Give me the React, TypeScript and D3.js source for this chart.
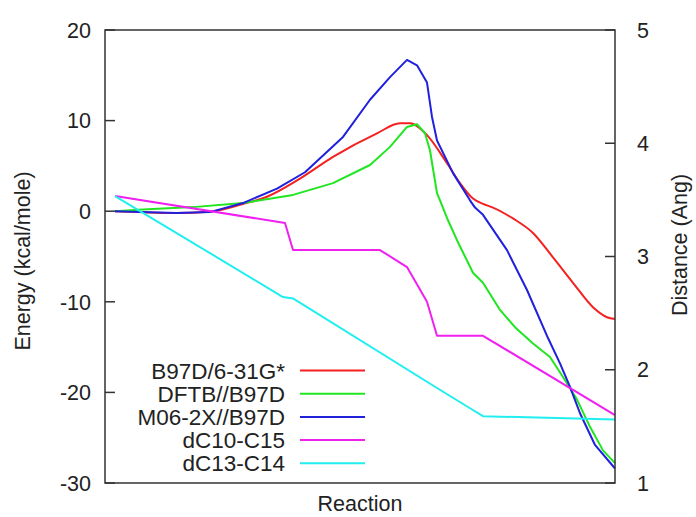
import React from "react";
import * as d3 from "d3";

// Energy curves (left axis, kcal/mole): [reaction coordinate, energy]
const b97dX = [0, 5, 12, 19, 25.6, 30.4, 37, 43.6, 52.4, 57, 59, 62.4, 66.4, 69, 71.6, 73.6, 75.6, 79.6, 83.6, 87.6, 91.6, 95.6, 98.4, 100];
const b97dY = [0, -0.1, -0.2, -0.05, 0.8, 1.6, 3.6, 6.0, 8.6, 9.7, 9.7, 8.4, 5.3, 3.1, 1.4, 0.8, 0.4, -0.8, -2.4, -5.1, -7.9, -10.6, -11.7, -11.9];

const dftbX = [0, 5.6, 15.6, 25.6, 35.6, 43.6, 51, 55, 58.4, 60.4, 62, 63, 64.4, 65, 66.6, 68.4, 71.6, 73.6, 77, 80, 83.6, 87, 89.6, 92.4, 95, 97.6, 100];
const dftbY = [0, 0.2, 0.45, 0.9, 1.8, 3.1, 5.1, 7.1, 9.3, 9.6, 8.6, 6.7, 2.0, 1.2, -1.0, -3.2, -6.8, -7.9, -10.9, -12.8, -14.6, -16.1, -18.3, -20.8, -23.8, -26.4, -27.8];

const m06X = [0, 5, 12.4, 19, 25.6, 32.4, 38, 45.6, 51, 55, 58.4, 60.4, 62.4, 63.4, 64.4, 67.6, 71, 72, 73.6, 78.4, 82.4, 86.6, 89, 91, 93, 96, 100];
const m06Y = [0, -0.1, -0.2, -0.1, 0.9, 2.5, 4.3, 8.2, 12.3, 14.8, 16.7, 16.1, 14.2, 10.4, 7.8, 4.2, 1.2, 0.4, -0.4, -4.3, -8.7, -14.0, -16.8, -19.4, -22.3, -25.8, -28.4];

// Distance curves (right axis, Angstrom)
const dC1015X = [0, 34, 35.6, 53, 58.4, 62.4, 64.4, 73.6, 100];
const dC1015Y = [3.534, 3.296, 3.057, 3.057, 2.907, 2.6, 2.3, 2.3, 1.6];

const dC1314X = [0, 33.6, 35.6, 64.4, 71, 73.6, 100];
const dC1314Y = [3.534, 2.642, 2.63, 1.839, 1.66, 1.59, 1.56];

const leftTicks = [20, 10, 0, -10, -20, -30];
const rightTicks = [5, 4, 3, 2, 1];

const seriesNames = ["B97D/6-31G*", "DFTB//B97D", "M06-2X//B97D", "dC10-C15", "dC13-C14"];
const seriesColors = ["#f52020", "#20e620", "#2020dd", "#f020f0", "#20eef0"];

export default function App() {
  const W = 696, H = 517;
  const L = 105, R = 615, T = 30, B = 483;
  const x = d3.scaleLinear().domain([-2, 100]).range([L, R]);
  const yL = d3.scaleLinear().domain([-30, 20]).range([B, T]);
  const yR = d3.scaleLinear().domain([1, 5]).range([B, T]);

  const mk = (xs: number[], ys: number[], ys2: d3.ScaleLinear<number, number>, smooth = false) => {
    const g = d3.line<number>().x((_, i) => x(xs[i])).y((v) => ys2(v));
    if (smooth) g.curve(d3.curveMonotoneX);
    return g(ys) || "";
  };

  const paths = [
    mk(b97dX, b97dY, yL, true),
    mk(dftbX, dftbY, yL),
    mk(m06X, m06Y, yL),
    mk(dC1015X, dC1015Y, yR),
    mk(dC1314X, dC1314Y, yR),
  ];

  const font = "'Liberation Sans', Arial, Helvetica, sans-serif";
  const fs = 21.5;
  const legendY0 = 370.5;
  const legendDy = 23.2;

  return (
    <svg width={W} height={H} style={{ position: "absolute", left: 0, top: 0, background: "#fff" }} fontFamily={font}>
      <rect x={0} y={0} width={W} height={H} fill="#fff" />
      {paths.map((d, i) => (
        <path key={i} d={d} fill="none" stroke={seriesColors[i]} strokeWidth={2} strokeLinejoin="round" />
      ))}
      <rect x={L} y={T} width={R - L} height={B - T} fill="none" stroke="#333" strokeWidth={1.5} />
      {leftTicks.map((t) => (
        <g key={"l" + t}>
          <line x1={L} x2={L + 10} y1={yL(t)} y2={yL(t)} stroke="#333" strokeWidth={1.5} />
          <text x={91} y={yL(t)} dy="0.36em" textAnchor="end" fontSize={fs} fill="#222">{t}</text>
        </g>
      ))}
      {rightTicks.map((t) => (
        <g key={"r" + t}>
          <line x1={R - 10} x2={R} y1={yR(t)} y2={yR(t)} stroke="#333" strokeWidth={1.5} />
          <text x={637} y={yR(t)} dy="0.36em" textAnchor="start" fontSize={fs} fill="#222">{t}</text>
        </g>
      ))}
      <text x={360} y={511} textAnchor="middle" fontSize={fs} fill="#222">Reaction</text>
      <text transform="translate(30,261) rotate(-90)" textAnchor="middle" fontSize={fs} fill="#222">Energy (kcal/mole)</text>
      <text transform="translate(687,245) rotate(-90)" textAnchor="middle" fontSize={fs} fill="#222">Distance (Ang)</text>
      {seriesNames.map((n, i) => (
        <g key={n}>
          <text x={285} y={legendY0 + i * legendDy} dy="0.36em" textAnchor="end" fontSize={22.5} fill="#222">{n}</text>
          <line x1={300} x2={365} y1={legendY0 + i * legendDy} y2={legendY0 + i * legendDy} stroke={seriesColors[i]} strokeWidth={2} />
        </g>
      ))}
    </svg>
  );
}
